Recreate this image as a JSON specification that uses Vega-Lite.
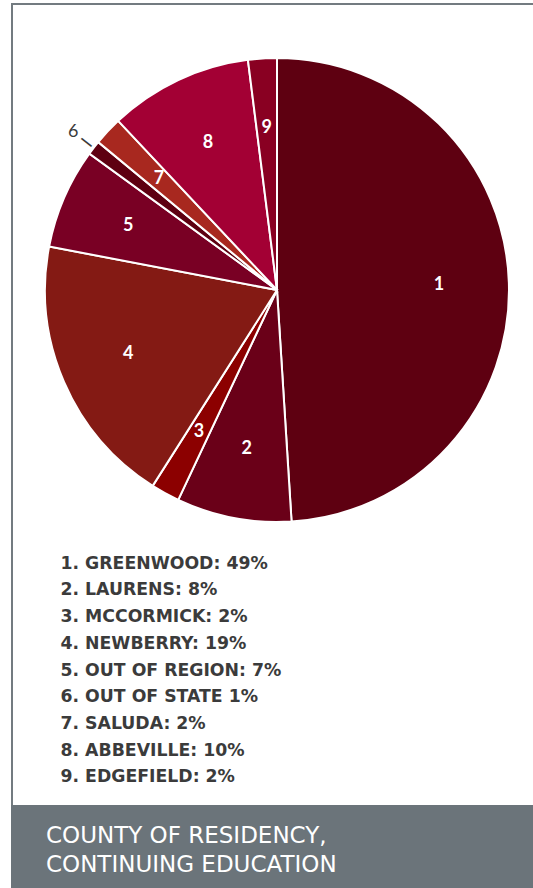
{
  "$schema": "https://vega.github.io/schema/vega-lite/v6.json",
  "background": "white",
  "padding": {"left": 11, "top": 3, "right": 0, "bottom": 0},
  "config": {"view": {"stroke": null}, "concat": {"spacing": 0}, "font": "Lato"},
  "datasets": {
    "slices": [
      {"id": 1, "name": "GREENWOOD", "pct": 49, "label": "1. GREENWOOD: 49%"},
      {"id": 2, "name": "LAURENS", "pct": 8, "label": "2. LAURENS: 8%"},
      {"id": 3, "name": "MCCORMICK", "pct": 2, "label": "3. MCCORMICK: 2%"},
      {"id": 4, "name": "NEWBERRY", "pct": 19, "label": "4. NEWBERRY: 19%"},
      {"id": 5, "name": "OUT OF REGION", "pct": 7, "label": "5. OUT OF REGION: 7%"},
      {"id": 6, "name": "OUT OF STATE", "pct": 1, "label": "6. OUT OF STATE 1%"},
      {"id": 7, "name": "SALUDA", "pct": 2, "label": "7. SALUDA: 2%"},
      {"id": 8, "name": "ABBEVILLE", "pct": 10, "label": "8. ABBEVILLE: 10%"},
      {"id": 9, "name": "EDGEFIELD", "pct": 2, "label": "9. EDGEFIELD: 2%"}
    ]
  },
  "spacing": 0,
  "bounds": "flush",
  "vconcat": [
    {
      "width": 522, "height": 2,
      "view": {"fill": "#737b80", "stroke": null},
      "data": {"values": [{}]},
      "mark": {"type": "text", "text": "", "fontSize": 0, "baseline": "middle"}
    },
    {
      "width": 532, "height": 570,
      "data": {"name": "slices"},
      "layer": [
        {
          "mark": {"type": "rule", "color": "#737b80", "strokeWidth": 2},
          "encoding": {"x": {"value": 1}}
        },
        {
          "encoding": {
            "theta": {"field": "pct", "type": "quantitative", "stack": true},
            "order": {"field": "id", "type": "quantitative"}
          },
          "layer": [
            {
              "mark": {"type": "arc", "outerRadius": 232, "stroke": "white", "strokeWidth": 2},
              "encoding": {
                "color": {
                  "field": "id", "type": "nominal", "legend": null,
                  "scale": {
                    "domain": [1, 2, 3, 4, 5, 6, 7, 8, 9],
                    "range": ["#5e0011", "#6a0018", "#8c0000", "#841a14", "#790024", "#5e0011", "#a8281f", "#a30034", "#890022"]
                  }
                }
              }
            },
            {
              "mark": {"type": "text", "radius": 162, "fontSize": 18, "fontWeight": "bold", "color": "white"},
              "encoding": {
                "text": {"field": "id", "type": "nominal"},
                "opacity": {"condition": {"test": "datum.id === 6", "value": 0}, "value": 1}
              }
            },
            {
              "mark": {"type": "text", "radius": 258, "fontSize": 18, "color": "#3b3b3b"},
              "encoding": {
                "text": {"field": "id", "type": "nominal"},
                "opacity": {"condition": {"test": "datum.id === 6", "value": 1}, "value": 0}
              }
            },
            {
              "mark": {"type": "text", "radius": 241, "fontSize": 19, "fontWeight": "bold", "angle": 38, "text": "—", "color": "#3b3b3b"},
              "encoding": {
                "opacity": {"condition": {"test": "datum.id === 6", "value": 1}, "value": 0}
              }
            }
          ]
        }
      ]
    },
    {
      "width": 522, "height": 230,
      "data": {"name": "slices"},
      "layer": [
        {
          "mark": {"type": "rule", "color": "#737b80", "strokeWidth": 2},
          "encoding": {"x": {"value": 1}}
        },
        {
          "mark": {"type": "text", "align": "left", "baseline": "alphabetic", "dx": -211.5, "dy": -14.5, "font": "DejaVu Sans", "fontSize": 17.3, "fontWeight": "bold", "color": "#3b3b3b"},
          "encoding": {
            "y": {"field": "id", "type": "ordinal", "axis": null, "scale": {"padding": 0.3}},
            "text": {"field": "label", "type": "nominal"}
          }
        }
      ]
    },
    {
      "width": 522, "height": 83,
      "view": {"fill": "#6b747a", "stroke": null},
      "data": {"values": [{}]},
      "mark": {"type": "text", "text": ["COUNTY OF RESIDENCY,", "CONTINUING EDUCATION"], "align": "left", "baseline": "middle", "lineHeight": 29, "dx": -226, "dy": -11, "font": "DejaVu Sans", "fontSize": 23, "color": "white"}
    }
  ]
}
